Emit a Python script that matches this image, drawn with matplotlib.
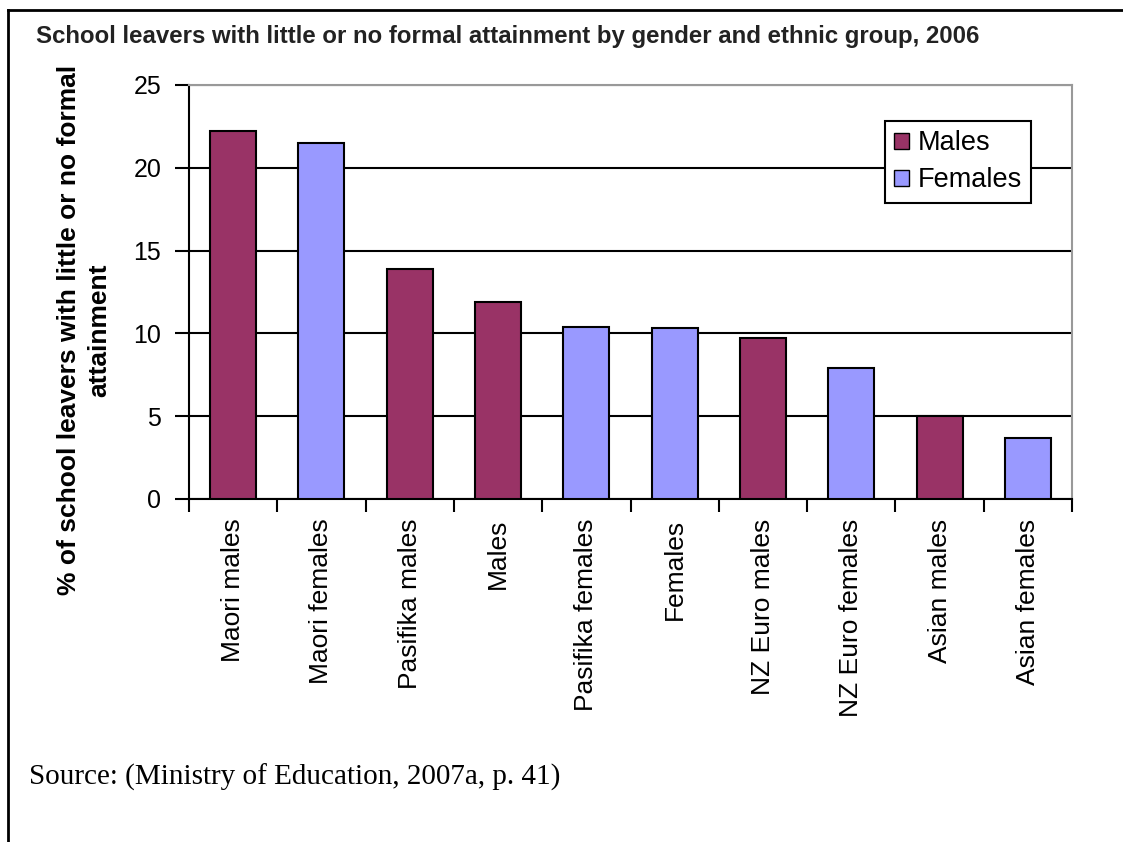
import matplotlib
matplotlib.use("Agg")
import matplotlib.pyplot as plt
from matplotlib.lines import Line2D
from matplotlib.patches import Patch

categories = ["Maori males", "Maori females", "Pasifika males", "Males",
              "Pasifika females", "Females", "NZ Euro males", "NZ Euro females",
              "Asian males", "Asian females"]
values = [22.2, 21.5, 13.9, 11.9, 10.4, 10.3, 9.7, 7.9, 5.0, 3.7]
genders = ["M", "F", "M", "M", "F", "F", "M", "F", "M", "F"]
yticks = [0, 5, 10, 15, 20, 25]

male_col = "#993366"
female_col = "#9999FF"

plt.rcParams['font.family'] = ['Liberation Sans', 'DejaVu Sans']

W, H = 1123, 842
fig = plt.figure(figsize=(11.23, 8.42), dpi=100)
ax = fig.add_axes([189 / W, 1 - 499 / H, (1072 - 189) / W, (499 - 85) / H])

x = list(range(len(categories)))
colors = [male_col if g == "M" else female_col for g in genders]
ax.bar(x, values, width=0.52, color=colors, edgecolor="black", linewidth=1.5, zorder=3)

ax.set_xlim(-0.5, len(categories) - 0.5)
ax.set_ylim(0, 25)
ax.set_yticks(yticks)
ax.set_yticklabels([str(t) for t in yticks], fontsize=18)
ax.grid(axis="y", color="black", linewidth=1.5, zorder=0)

# ticks between categories, labels at centres
ax.set_xticks([i - 0.5 for i in range(len(categories) + 1)])
ax.set_xticklabels([])
ax.set_xticks(x, minor=True)
ax.set_xticklabels(categories, minor=True, rotation=90, fontsize=19)
ax.tick_params(axis="x", which="minor", length=0, pad=14)
ax.tick_params(axis="x", which="major", length=9, width=1.5, direction="out")
ax.tick_params(axis="y", length=10, width=1.5, direction="out", pad=10)

for s in ["left", "bottom"]:
    ax.spines[s].set_color("black")
    ax.spines[s].set_linewidth(1.5)
for s in ["top", "right"]:
    ax.spines[s].set_color("#999999")
    ax.spines[s].set_linewidth(1.5)

handles = [Patch(facecolor=male_col, edgecolor="black", label="Males"),
           Patch(facecolor=female_col, edgecolor="black", label="Females")]
leg = fig.legend(handles=handles, loc="upper left",
                 bbox_to_anchor=(885 / W, 1 - 121 / H), borderaxespad=0,
                 fontsize=19.5, fancybox=False, framealpha=1, edgecolor="black",
                 handlelength=0.55, handleheight=0.55, handletextpad=0.3,
                 borderpad=0.35, labelspacing=0.4)
leg.get_frame().set_linewidth(1.5)

fig.text(36 / W, 1 - 36 / H,
         "School leavers with little or no formal attainment by gender and ethnic group, 2006",
         fontsize=17.3, fontweight="bold", color="#222222", ha="left", va="center")

fig.text(84 / W, 1 - 330 / H,
         "% of school leavers with little or no formal\nattainment",
         fontsize=19, fontweight="bold", rotation=90, ha="center", va="center",
         multialignment="center", linespacing=1.3)

fig.text(29 / W, 1 - 777 / H, "Source: (Ministry of Education, 2007a, p. 41)",
         fontsize=21, family="Liberation Serif", ha="left", va="center")

# page border (left and top only)
fig.add_artist(Line2D([8 / W, 8 / W], [0, 1 - 10 / H], color="black", linewidth=2,
                      transform=fig.transFigure))
fig.add_artist(Line2D([8 / W, 1], [1 - 10 / H, 1 - 10 / H], color="black", linewidth=2,
                      transform=fig.transFigure))

fig.savefig("out.png", dpi=100)
